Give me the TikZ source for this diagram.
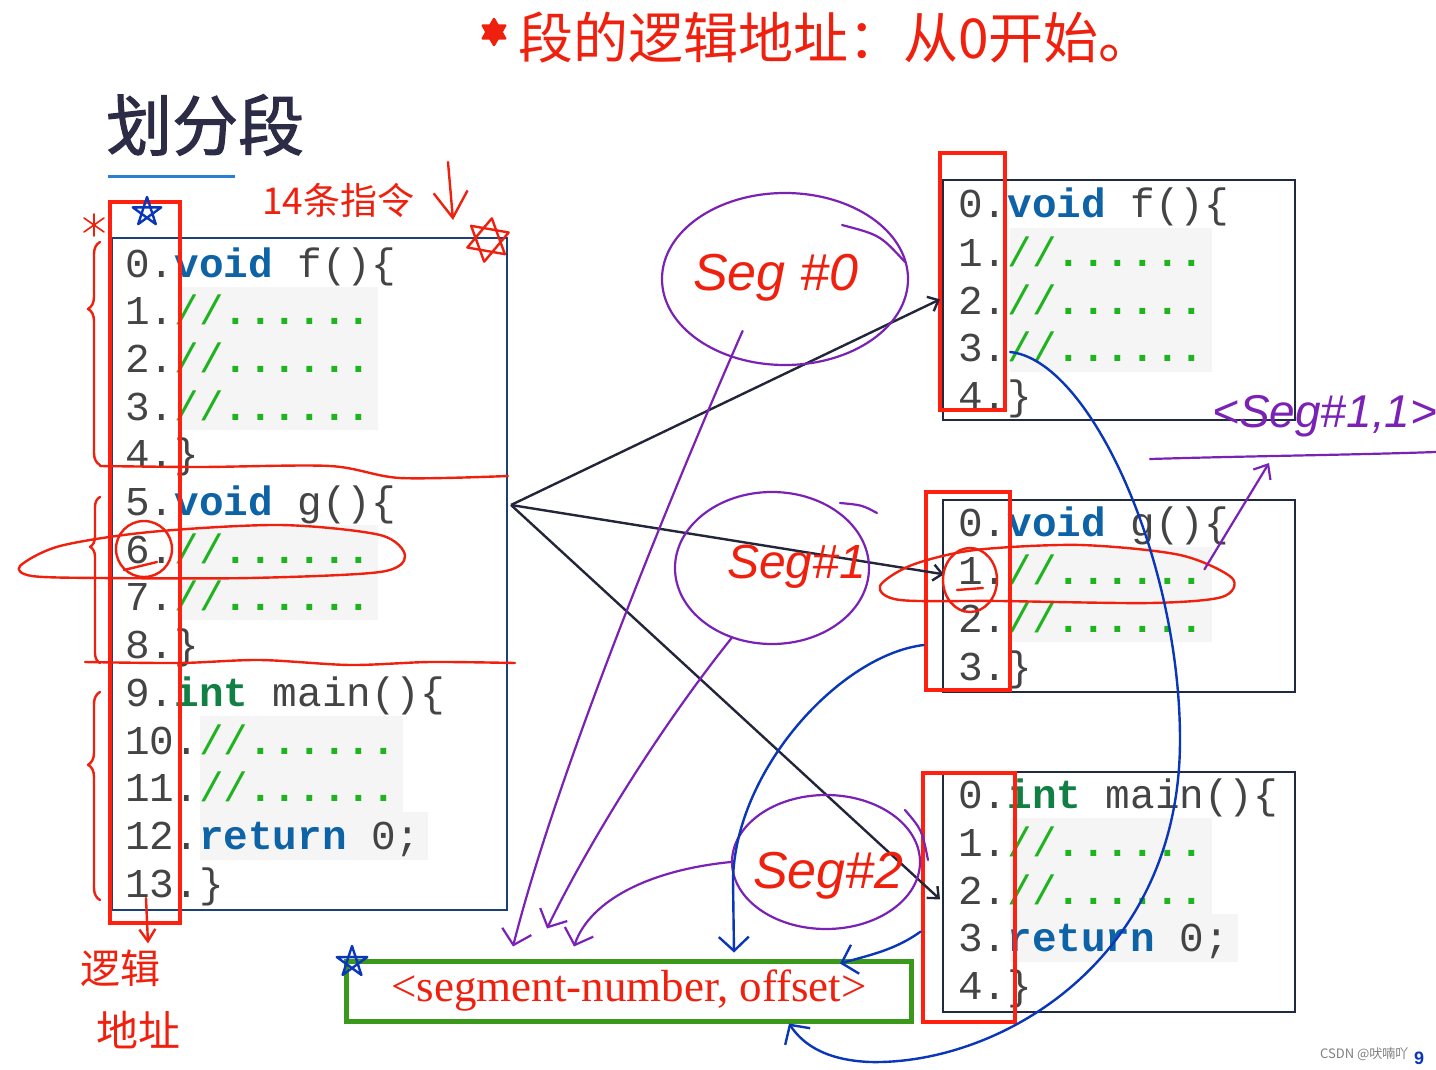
\documentclass[tikz,border=0pt]{standalone}
\usepackage{fontspec}
\setmainfont{Liberation Serif}
\newfontfamily\codefont{Liberation Mono}
\newfontfamily\cjkfont{Noto Sans CJK SC}
\newfontfamily\titlefont{Noto Sans CJK SC}[FakeBold=1.6]
\newfontfamily\handfont{Liberation Sans}
\usetikzlibrary{arrows.meta,decorations.pathreplacing,shapes.geometric,calc,positioning}

\definecolor{kwblue}{HTML}{0E63A6}
\definecolor{kwgreen}{HTML}{127F45}
\definecolor{cmtgreen}{HTML}{1FB31F}
\definecolor{numgrey}{HTML}{444444}
\definecolor{codebg}{HTML}{F5F5F5}
\definecolor{frameblue}{HTML}{1D3F78}
\definecolor{framedark}{HTML}{1E2A40}
\definecolor{rectred}{HTML}{FF2010}
\definecolor{inkred}{HTML}{F0200F}
\definecolor{inkpurple}{HTML}{7A22B5}
\definecolor{inkblue}{HTML}{0A36B8}
\definecolor{inkblack}{HTML}{23263A}
\definecolor{boxgreen}{HTML}{3A981A}
\definecolor{titlecol}{HTML}{2C2C46}
\definecolor{ruleblue}{HTML}{2A7FD4}

\newcommand\kw[1]{\textcolor{kwblue}{\bfseries #1}}
\newcommand\kwint[1]{\textcolor{kwgreen}{\bfseries #1}}
\newcommand\cmt{\textcolor{cmtgreen}{//\bfseries......}}

\begin{document}
\begin{tikzpicture}[x=1pt,y=1pt,yscale=-1,
  code/.style={anchor=base west,inner sep=0pt,text=numgrey,font={\codefont\fontsize{41}{48}\selectfont}},
  frame/.style={draw=framedark,line width=1.3pt},
  redrect/.style={draw=rectred,line width=4.5pt,inner sep=0pt},
  rpen/.style={draw=inkred,line width=2.4pt,line cap=round,line join=round},
  ppen/.style={draw=inkpurple,line width=2.2pt,line cap=round,line join=round},
  bpen/.style={draw=inkblue,line width=2.4pt,line cap=round,line join=round},
  ptr/.style={draw=inkblack,line width=2.4pt,-{Straight Barb[length=9pt,width=16pt]}},
  barb/.style={-{Straight Barb[length=14pt,width=30pt]}},
  ring/.style={ppen,ellipse,inner sep=0pt},
  hand/.style={font={\handfont\itshape\fontsize{#1}{#1}\selectfont},inner sep=0pt,anchor=base west},
  redcjk/.style={text=inkred,inner sep=0pt,font={\cjkfont\fontsize{#1}{#1}\selectfont}}]
\useasboundingbox (0,0) rectangle (1436,1070);
\fill[white] (0,0) rectangle (1436,1070);

% title
\node[anchor=west,inner sep=0pt,text=titlecol,font={\titlefont\fontsize{66}{66}\selectfont}] (title) at (106,125) {划分段};
\draw[ruleblue,line width=3pt] (108,177) -- (235,177);

% code backgrounds
\fill[codebg] (180,287) rectangle (378,430);
\fill[codebg] (180,525) rectangle (378,620);
\fill[codebg] (200,716) rectangle (403,812);
\fill[codebg] (200,812) rectangle (428,860);
\fill[codebg] (1010,228) rectangle (1212,372);
\fill[codebg] (1010,547) rectangle (1212,642);
\fill[codebg] (1010,818) rectangle (1212,914);
\fill[codebg] (1010,914) rectangle (1238,962);

% frames
\draw[frame,draw=frameblue] (112,238) rectangle (507,910);
\draw[frame] (943,180) rectangle (1295,420);
\draw[frame] (943,500) rectangle (1295,692);
\draw[frame] (943,772) rectangle (1295,1012);

% whole program
\node[code] (l0) at (125,277) {0.\kw{void} f()\{};
\node[code] (l1) at (125,324.7) {1.\cmt};
\node[code] (l2) at (125,372.4) {2.\cmt};
\node[code] (l3) at (125,420.1) {3.\cmt};
\node[code] (l4) at (125,467.8) {4.\}};
\node[code] (l5) at (125,515.5) {5.\kw{void} g()\{};
\node[code] (l6) at (125,563.2) {6.\cmt};
\node[code] (l7) at (125,610.9) {7.\cmt};
\node[code] (l8) at (125,658.6) {8.\}};
\node[code] (l9) at (125,706.3) {9.\kwint{int} main()\{};
\node[code] (l10) at (125,754) {10.\cmt};
\node[code] (l11) at (125,801.7) {11.\cmt};
\node[code] (l12) at (125,849.4) {12.\kw{return} 0;};
\node[code] (l13) at (125,897.1) {13.\}};

% segments
\node[code] (fa0) at (958,218) {0.\kw{void} f()\{};
\node[code] (fa1) at (958,266) {1.\cmt};
\node[code] (fa2) at (958,314) {2.\cmt};
\node[code] (fa3) at (958,361) {3.\cmt};
\node[code] (fa4) at (958,409) {4.\}};
\node[code] (gb0) at (958,536) {0.\kw{void} g()\{};
\node[code] (gb1) at (958,584) {1.\cmt};
\node[code] (gb2) at (958,632) {2.\cmt};
\node[code] (gb3) at (958,680) {3.\}};
\node[code] (mc0) at (958,808) {0.\kwint{int} main()\{};
\node[code] (mc1) at (958,856) {1.\cmt};
\node[code] (mc2) at (958,904) {2.\cmt};
\node[code] (mc3) at (958,951) {3.\kw{return} 0;};
\node[code] (mc4) at (958,999) {4.\}};

% red columns
\node[redrect,minimum width=70pt,minimum height=721pt] (rL) at (145,562.5) {};
\node[redrect,minimum width=65pt,minimum height=257pt] (rA) at (972.5,281.5) {};
\node[redrect,minimum width=84pt,minimum height=198pt] (rB) at (968,591) {};
\node[redrect,minimum width=92pt,minimum height=249pt] (rC) at (969,897.5) {};

% mapping arrows
\coordinate (src) at (511,505);
\draw[ptr] (src) -- ($(fa2.west)+(-18,0)$);
\draw[ptr] (src) -- ($(gb1.west)+(-14,5)$);
\draw[ptr] (src) -- ($(mc2.west)+(-18,10)$);

% address box
\node[draw=boxgreen,line width=5pt,minimum width=565pt,minimum height=60pt,inner sep=0pt,text=inkred,font={\fontsize{45}{45}\selectfont}] (addr) at (629,991) {<segment-number, offset>};

% red notes
\draw[rpen] plot[smooth cycle] coordinates {(20,566) (60,546) (150,532) (280,525) (380,535) (405,556) (380,572) (250,578) (100,578) (32,576)};
\draw[rpen] (144,549) circle [radius=28];
\draw[rpen] (124,570) -- (157,562);
\draw[rpen] plot[smooth cycle] coordinates {(880,586) (912,565) (975,550) (1080,545) (1180,555) (1232,578) (1222,597) (1150,603) (1000,601) (900,600)};
\draw[rpen] (970,580) ellipse [x radius=27,y radius=32];
\draw[rpen] (957,590) -- (983,588);
\draw[rpen] plot[smooth] coordinates {(100,466) (200,467) (330,466) (400,478) (508,476)};
\draw[rpen] plot[smooth] coordinates {(85,662) (180,663) (260,660) (350,665) (430,662) (515,663)};
\draw[rpen,decorate,decoration={brace,amplitude=12pt,aspect=0.7}] (100,465) -- (100,242);
\draw[rpen,decorate,decoration={brace,amplitude=10pt,aspect=0.7}] (100,663) -- (100,497);
\draw[rpen,decorate,decoration={brace,amplitude=12pt,aspect=0.65}] (100,900) -- (100,692);
\draw[rpen,line width=1.6pt] (84,232) -- (104,218) (84,218) -- (104,232) (94,214) -- (94,236);
\draw[rpen] (488,240) +(-80:22) -- +(40:22) -- +(160:22) -- cycle;
\draw[rpen] (488,240) +(100:22) -- +(220:22) -- +(340:22) -- cycle;
\draw[rpen,fill=inkred] (494,32) +(-90:13) -- +(30:13) -- +(150:13) -- cycle;
\draw[rpen,fill=inkred] (494,32) +(90:13) -- +(210:13) -- +(330:13) -- cycle;

\node[redcjk=55,anchor=west] (hint) at (518,38) {段的逻辑地址：从0开始。};
\node[redcjk=37,anchor=west] (count) at (262,200) {14条指令};
\draw[rpen,-{Straight Barb[length=26pt,width=34pt]}] (448,162) -- (453,220);
\node[redcjk=40] (lg1) at (120,968) {逻辑};
\node[redcjk=42] (lg2) at (138,1030) {地址};
\draw[rpen,-{Straight Barb[length=12pt,width=16pt]}] (146,898) -- ($(lg1.north)+(28,-6)$);

% blue stars
\draw[bpen] (147,212) +(-90:15) -- +(54:15) -- +(198:15) -- +(342:15) -- +(126:15) -- cycle;
\draw[bpen] (352,962) +(-90:16) -- +(54:16) -- +(198:16) -- +(342:16) -- +(126:16) -- cycle;

% segment labels
\node[ring,minimum width=246pt,minimum height=172pt] (c0) at (785,279) {};
\draw[ppen] (842,225) .. controls (880,235) .. (905,262);
\node[ring,minimum width=194pt,minimum height=152pt] (c1) at (772,568) {};
\draw[ppen] (840,503) .. controls (862,505) .. (877,513);
\node[ring,minimum width=188pt,minimum height=134pt] (c2) at (826,862) {};
\draw[ppen] (905,810) .. controls (922,830) .. (928,860);
\node[hand=52,text=inkred] (seg0) at (693,290) {Seg \#0};
\node[hand=48,text=inkred] (seg1) at (727,578) {Seg\#1};
\node[hand=52,text=inkred] (seg2) at (753,888) {Seg\#2};

% purple links
\draw[ppen,barb] ($(seg0.south)+(-33,30)$) .. controls (690,450) and (560,760) .. ($(addr.north)+(-116,-12)$);
\draw[ppen,barb] (c1.240) .. controls (650,740) and (580,860) .. ($(addr.north)+(-82,-30)$);
\draw[ppen,barb] (c2.west) .. controls (650,870) and (590,900) .. ($(addr.north)+(-55,-12)$);
\node[hand=46,text=inkpurple] (note) at (1212,427) {<Seg\#1,1>};
\draw[ppen] (1150,459) .. controls (1250,456) and (1350,455) .. (1436,452);
\draw[ppen,-{Straight Barb[length=12pt,width=20pt]}] (gb1.east) -- ($(note.base west)+(57,36)$);

% blue links
\draw[bpen,barb] ($(fa3.base west)+(52,-9)$) .. controls (1090,360) and (1180,560) .. (1180,740) .. controls (1180,960) and (1000,1065) .. (870,1062) .. controls (820,1060) and (800,1040) .. ($(addr.south)+(160,0)$);
\draw[bpen,barb] ($(rB.west)+(0,54)$) .. controls (840,655) and (735,770) .. (733,880) -- ($(addr.north)+(105,-6)$);
\draw[bpen,barb] ($(rC.west)+(0,34)$) .. controls (895,950) and (870,955) .. ($(addr.north east)+(-74,5)$);

% footer
\node[anchor=west,inner sep=0pt,text=gray,font={\cjkfont\fontsize{13}{13}\selectfont}] (wm) at (1320,1054) {CSDN @吠喃吖};
\node[anchor=west,inner sep=0pt,text=inkblue,font={\handfont\bfseries\fontsize{18}{18}\selectfont}] (pg) at (1414,1058) {9};
\end{tikzpicture}
\end{document}
